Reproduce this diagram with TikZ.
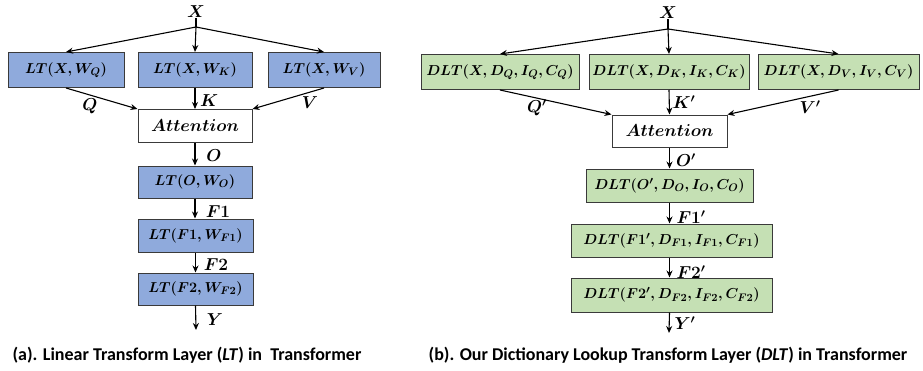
\documentclass[tikz,border=0pt]{standalone}
\usepackage{fontspec}
\usepackage{amsmath}
\usepackage{bm}
\newfontfamily\capfont{Carlito}
\usetikzlibrary{arrows.meta}
\definecolor{ltblue}{HTML}{8FAADC}
\definecolor{ltgreen}{HTML}{C5E0B4}
\definecolor{bordc}{HTML}{3A3A3A}
\begin{document}
\begin{tikzpicture}[x=1pt,y=-1pt,
  box/.style={draw=bordc,line width=1pt,inner sep=0pt,font=\fontsize{15}{18}\selectfont\boldmath},
  bluebox/.style={box,fill=ltblue},
  greenbox/.style={box,fill=ltgreen},
  attbox/.style={box,fill=white,font=\fontsize{18}{21}\selectfont\boldmath},
  lab/.style={inner sep=0pt,font=\fontsize{17}{20}\selectfont\boldmath},
  arr/.style={line width=1.1pt,-{Stealth[length=7pt,width=6pt]}},
  captxt/.style={inner sep=0pt,font=\capfont\bfseries\fontsize{18}{21}\selectfont}]
\useasboundingbox (0,0) rectangle (923,370);
% ---------- left ----------
\node[lab] (xa) at (196,12) {$X$};
\coordinate (sa) at (196,27);
\node[bluebox,minimum width=116pt,minimum height=35pt] (qa) at (66,70) {$LT(X,W_Q)$};
\node[bluebox,minimum width=114pt,minimum height=35pt] (ka) at (195,70) {$LT(X,W_K)$};
\node[bluebox,minimum width=112pt,minimum height=35pt] (va) at (324,70) {$LT(X,W_V)$};
\node[attbox,minimum width=114pt,minimum height=33pt] (atta) at (195,126) {$Attention$};
\node[bluebox,minimum width=114pt,minimum height=32pt] (oa) at (195,182) {$LT(O,W_O)$};
\node[bluebox,minimum width=115pt,minimum height=33pt] (f1a) at (195.5,235.5) {$LT(F1,W_{F1})$};
\node[bluebox,minimum width=115pt,minimum height=32pt] (f2a) at (195.5,289) {$LT(F2,W_{F2})$};
\coordinate (ya) at (196,330);
\draw[line width=1.1pt] (xa.south) -- (sa);
\draw[arr] (sa) -- (qa.north);
\draw[arr] (sa) -- (ka.north);
\draw[arr] (sa) -- (va.north);
\draw[arr] (qa.south) -- (atta.north west);
\draw[arr] (ka.south) -- (atta.north);
\draw[arr] (va.south) -- (atta.north east);
\draw[arr] (atta.south) -- (oa.north);
\draw[arr] (oa.south) -- (oa.south |- f1a.north);
\draw[arr] (f1a.south) -- (f1a.south |- f2a.north);
\draw[arr] (f2a.south) -- (ya);
\node[lab] (lqa) at (90,106) {$Q$};
\node[lab] (lka) at (209,101) {$K$};
\node[lab] (lva) at (310,103) {$V$};
\node[lab] (loa) at (214,156) {$O$};
\node[lab] (lf1a) at (218,212) {$F1$};
\node[lab] (lf2a) at (216,265) {$F2$};
\node[lab] (lya) at (215,320) {$Y$};
\node[captxt] (capa) at (187,355) {(a). Linear Transform Layer (\textit{LT}) in\ \ Transformer};
% ---------- right ----------
\node[lab] (xb) at (668,13) {$X$};
\coordinate (sb) at (668,29);
\node[greenbox,minimum width=158pt,minimum height=35pt] (qb) at (500,72) {$DLT(X,D_Q,I_Q,C_Q)$};
\node[greenbox,minimum width=160pt,minimum height=35pt] (kb) at (669,72) {$DLT(X,D_K,I_K,C_K)$};
\node[greenbox,minimum width=161pt,minimum height=35pt] (vb) at (838.5,72) {$DLT(X,D_V,I_V,C_V)$};
\node[attbox,minimum width=115pt,minimum height=32pt] (attb) at (669.5,131) {$Attention$};
\node[greenbox,minimum width=167pt,minimum height=33pt] (ob) at (669.5,185.5) {$DLT(O',D_O,I_O,C_O)$};
\node[greenbox,minimum width=201pt,minimum height=33pt] (f1b) at (671.5,240.5) {$DLT(F1',D_{F1},I_{F1},C_{F1})$};
\node[greenbox,minimum width=201pt,minimum height=34pt] (f2b) at (671.5,295) {$DLT(F2',D_{F2},I_{F2},C_{F2})$};
\coordinate (yb) at (669,333);
\draw[line width=1.1pt] (xb.south) -- (sb);
\draw[arr] (sb) -- (qb.north);
\draw[arr] (sb) -- (kb.north);
\draw[arr] (sb) -- (vb.north);
\draw[arr] (qb.south) -- (attb.north west);
\draw[arr] (kb.south) -- (attb.north);
\draw[arr] (vb.south) -- (attb.north east);
\draw[arr] (attb.south) -- (ob.north);
\draw[arr] (ob.south) -- (ob.south |- f1b.north);
\draw[arr] (ob.south |- f1b.south) -- (ob.south |- f2b.north);
\draw[arr] (ob.south |- f2b.south) -- (yb);
\node[lab] (lqb) at (537,108) {$Q'$};
\node[lab] (lkb) at (684,102) {$K'$};
\node[lab] (lvb) at (810,107) {$V'$};
\node[lab] (lob) at (686,160) {$O'$};
\node[lab] (lf1b) at (691,217) {$F1'$};
\node[lab] (lf2b) at (691,272) {$F2'$};
\node[lab] (lyb) at (685,323) {$Y'$};
\node[captxt] (capb) at (668,355) {(b). Our Dictionary Lookup Transform Layer (\textit{DLT}) in Transformer};
\end{tikzpicture}
\end{document}
